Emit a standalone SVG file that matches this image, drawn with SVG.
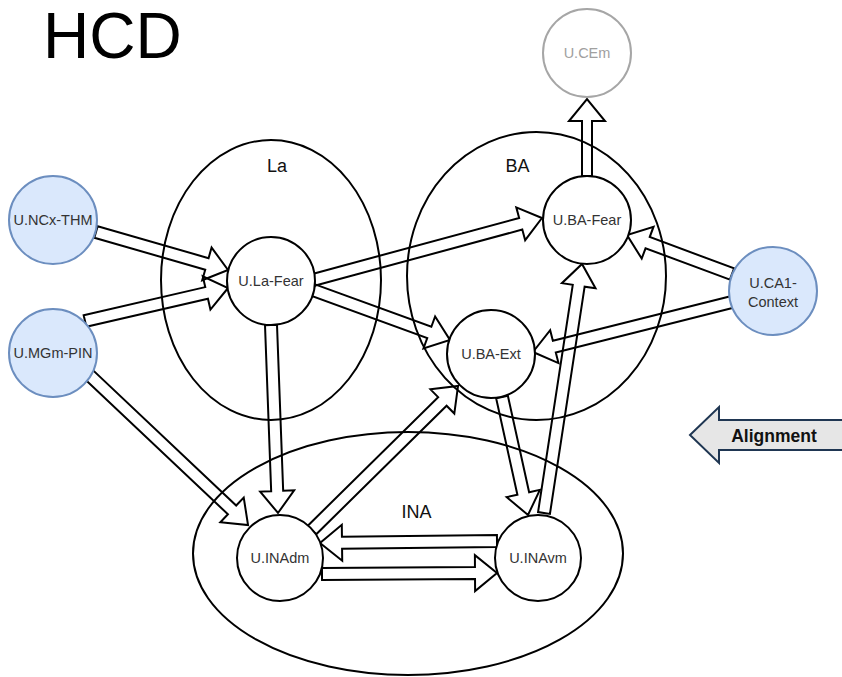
<svg xmlns="http://www.w3.org/2000/svg" width="842" height="677" viewBox="0 0 842 677">
  <style>
    .region { fill: none; stroke: #000; stroke-width: 2; }
    .region-label { font-family: "Liberation Sans", Arial, sans-serif; font-size: 18px; fill: #111; text-anchor: middle; }
    .node { fill: #fff; stroke: #000; stroke-width: 2; }
    .node.input { fill: #dae8fc; stroke: #6c8ebf; }
    .node.muted { fill: #fff; stroke: #a6a6a6; }
    .label { font-family: "Liberation Sans", Arial, sans-serif; font-size: 14.5px; fill: #333; text-anchor: middle; }
    .label.muted { fill: #a0a0a0; }
    .flow { fill: none; stroke: #000; stroke-width: 2; stroke-linejoin: miter; }
    .title { font-family: "Liberation Sans", Arial, sans-serif; font-size: 64px; fill: #000; }
  </style>

  <text class="title" x="43" y="58">HCD</text>

  <!-- Nuclei regions -->
  <g id="regions">
    <g id="region-La">
      <ellipse class="region" cx="271" cy="280" rx="110" ry="140"/>
      <text class="region-label" x="277" y="172">La</text>
    </g>
    <g id="region-BA">
      <ellipse class="region" cx="536.5" cy="276" rx="129.5" ry="144"/>
      <text class="region-label" x="517.5" y="172">BA</text>
    </g>
    <g id="region-INA">
      <ellipse class="region" cx="408" cy="553.5" rx="215" ry="121.5"/>
      <text class="region-label" x="416.5" y="518">INA</text>
    </g>
  </g>

  <!-- Connectors: hollow block arrows, drawn along +x then placed -->
  <g id="connectors">
    <polygon class="flow" transform="translate(96,232) rotate(16.06)" points="0,-6 115.4,-6 115.4,-17 137.4,0 115.4,17 115.4,6 0,6"/>
    <polygon class="flow" transform="translate(85,321) rotate(-12.99)" points="0,-6 124.8,-6 124.8,-17 146.8,0 124.8,17 124.8,6 0,6"/>
    <polygon class="flow" transform="translate(84,370) rotate(43.38)" points="0,-6 203.7,-6 203.7,-17 225.7,0 203.7,17 203.7,6 0,6"/>
    <polygon class="flow" transform="translate(271,325) rotate(87.87)" points="0,-6 166.1,-6 166.1,-17 188.1,0 166.1,17 166.1,6 0,6"/>
    <polygon class="flow" transform="translate(313,280) rotate(-15.15)" points="0,-6 215.2,-6 215.2,-17 237.2,0 215.2,17 215.2,6 0,6"/>
    <polygon class="flow" transform="translate(313,290) rotate(20.05)" points="0,-6 123.8,-6 123.8,-17 145.8,0 123.8,17 123.8,6 0,6"/>
    <polygon class="flow" transform="translate(732,274) rotate(200.38)" points="0,-6 90,-6 90,-17 112,0 90,17 90,6 0,6"/>
    <polygon class="flow" transform="translate(732,302) rotate(165.9)" points="0,-6 183.2,-6 183.2,-17 205.2,0 183.2,17 183.2,6 0,6"/>
    <polygon class="flow" transform="translate(544,513) rotate(-81.32)" points="0,-6 229.9,-6 229.9,-17 251.9,0 229.9,17 229.9,6 0,6"/>
    <polygon class="flow" transform="translate(502,397) rotate(77.57)" points="0,-6 98.8,-6 98.8,-17 120.8,0 98.8,17 98.8,6 0,6"/>
    <polygon class="flow" transform="translate(312,530) rotate(-44.6)" points="0,-6 183.1,-6 183.1,-17 205.1,0 183.1,17 183.1,6 0,6"/>
    <polygon class="flow" transform="translate(497,541) rotate(179.35)" points="0,-6 155,-6 155,-18 177,0 155,18 155,6 0,6"/>
    <polygon class="flow" transform="translate(322,574) rotate(-0.33)" points="0,-6 153,-6 153,-18 175,0 153,18 153,6 0,6"/>
    <polygon class="flow" transform="translate(587,176) rotate(-90)" points="0,-5 55,-5 55,-18 77,0 55,18 55,5 0,5"/>
  </g>

  <!-- Units -->
  <g id="U.NCx-THM">
    <circle class="node input" cx="53" cy="220" r="44"/>
    <text class="label" x="53" y="225">U.NCx-THM</text>
  </g>
  <g id="U.MGm-PIN">
    <circle class="node input" cx="53" cy="353" r="44"/>
    <text class="label" x="53" y="358">U.MGm-PIN</text>
  </g>
  <g id="U.La-Fear">
    <circle class="node" cx="271" cy="281" r="44"/>
    <text class="label" x="271" y="286">U.La-Fear</text>
  </g>
  <g id="U.BA-Fear">
    <circle class="node" cx="587" cy="220" r="44"/>
    <text class="label" x="587" y="225">U.BA-Fear</text>
  </g>
  <g id="U.BA-Ext">
    <circle class="node" cx="491" cy="354" r="44"/>
    <text class="label" x="491" y="359">U.BA-Ext</text>
  </g>
  <g id="U.CA1-Context">
    <circle class="node input" cx="773" cy="291" r="44"/>
    <text class="label" x="773" y="288">U.CA1-</text>
    <text class="label" x="773" y="307">Context</text>
  </g>
  <g id="U.CEm">
    <circle class="node muted" cx="587" cy="53" r="44"/>
    <text class="label muted" x="587" y="58">U.CEm</text>
  </g>
  <g id="U.INAdm">
    <circle class="node" cx="280" cy="558" r="43"/>
    <text class="label" x="280" y="563">U.INAdm</text>
  </g>
  <g id="U.INAvm">
    <circle class="node" cx="538" cy="558" r="43"/>
    <text class="label" x="538" y="563">U.INAvm</text>
  </g>

  <!-- Alignment marker -->
  <g id="alignment">
    <polygon points="690,435 719,407 719,420 846,420 846,450 719,450 719,463" fill="#e6e6e6" stroke="#1f3652" stroke-width="2" stroke-linejoin="miter"/>
    <text x="774" y="442" font-family="Liberation Sans, Arial, sans-serif" font-size="17.5" font-weight="bold" fill="#111" text-anchor="middle">Alignment</text>
  </g>
</svg>
